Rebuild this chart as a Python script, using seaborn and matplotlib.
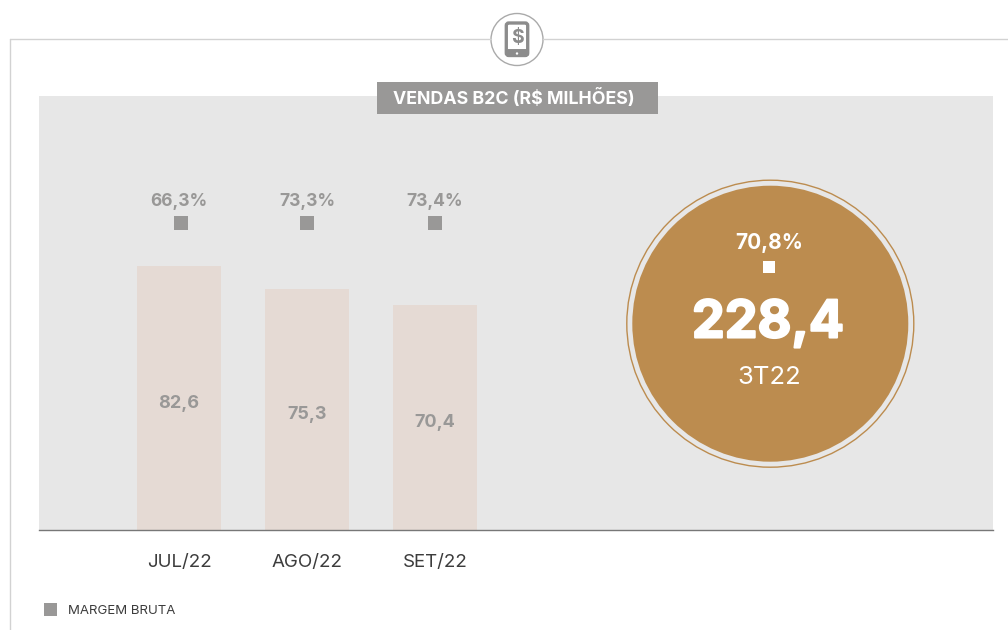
import matplotlib
matplotlib.use('Agg')
import matplotlib.pyplot as plt
from matplotlib.patches import Circle, Rectangle, FancyBboxPatch
import matplotlib.patheffects as pe
import pandas as pd
import seaborn as sns

# dados
meses = ['JUL/22', 'AGO/22', 'SET/22']
vendas = [82.6, 75.3, 70.4]
margem = ['66,3%', '73,3%', '73,4%']
total = '228,4'
total_margem = '70,8%'
total_label = '3T22'
titulo = 'VENDAS B2C (R$ MILHÕES)'
legenda = 'MARGEM BRUTA'

cinza = '#999897'
dourado = '#BC8C4F'

sns.set_theme(style='white')
plt.rcParams['font.family'] = ['Inter', 'DejaVu Sans']

fig = plt.figure(figsize=(10.08, 6.30), dpi=100, facecolor='white')
W, H = 1008, 630

# area do grafico, em pixels da imagem
ax = fig.add_axes([39 / W, 1 - 530 / H, (993 - 39) / W, (530 - 96) / H], facecolor='#E7E7E7')
df = pd.DataFrame({'mes': meses, 'vendas': vendas})
sns.barplot(data=df, x='mes', y='vendas', color='#E5DAD4', saturation=1, width=84 / 128,
            linewidth=0, ax=ax)
ax.set_xlim(-140 / 128, 814 / 128)
ax.set_ylim(0, 434 / 3.196)
ax.set_xlabel('')
ax.set_ylabel('')
ax.set_yticks([])
ax.tick_params(axis='x', length=0, pad=17, labelsize=13.5, labelcolor='#3c3c3c')
sns.despine(ax=ax, left=True, top=True, right=True)
ax.spines['bottom'].set_color('#777777')
ax.spines['bottom'].set_linewidth(1)

for i, (v, m) in enumerate(zip(vendas, margem)):
    ax.text(i, v / 2 - 1.6, f'{v:.1f}'.replace('.', ','), ha='center', va='center',
            fontsize=13, fontweight='bold', color=cinza)
    ax.text(i, 102.9, m, ha='center', va='center', fontsize=12.5, fontweight='bold', color=cinza)
sns.scatterplot(x=[0.016, 1, 2], y=[96, 96, 96], marker='s', s=100, color=cinza, linewidth=0, ax=ax)

# camada em pixels para moldura, titulo, icone e circulo
ov = fig.add_axes([0, 0, 1, 1], facecolor='none')
ov.set_xlim(0, W)
ov.set_ylim(H, 0)
ov.axis('off')

ov.plot([9.5, 491], [39, 39], color='#D2D2D2', lw=1)
ov.plot([543, 1008], [39, 39], color='#D2D2D2', lw=1)
ov.plot([9.5, 9.5], [39, 630], color='#D2D2D2', lw=1)

ov.add_patch(Circle((517, 39.5), 26, fc='white', ec='#AAAAAA', lw=1))
ov.add_patch(FancyBboxPatch((506.3, 23), 21.4, 32.5, boxstyle='round,pad=0,rounding_size=2.5',
                            fc='white', ec='#8C8C8C', lw=2.4))
ov.plot([506.3, 527.7], [52, 52], color='#8C8C8C', lw=5, solid_capstyle='butt')
ov.add_patch(Circle((517, 53.5), 1.2, fc='white', ec='none', zorder=5))
ov.text(517, 38, '$', ha='center', va='center', fontsize=14, fontweight='bold', color='#8C8C8C')

ov.add_patch(Rectangle((377, 82), 281, 32, fc=cinza, ec='none'))
ov.text(514, 99, titulo, ha='center', va='center', fontsize=12.8, fontweight='bold', color='white')

ov.add_patch(Circle((770.3, 323.7), 143.5, fc='none', ec=dourado, lw=1))
ov.add_patch(Circle((770.3, 323.7), 138, fc=dourado, ec='none'))
ov.text(769, 243, total_margem, ha='center', va='center', fontsize=15, fontweight='bold', color='white')
ov.add_patch(Rectangle((763, 261), 12, 12, fc='white', ec='none'))
big = ov.text(768, 324, total, ha='center', va='center', fontsize=37.5, fontweight='bold', color='white')
big.set_path_effects([pe.withStroke(linewidth=1.5, foreground='white')])
ov.text(769, 377, total_label, ha='center', va='center', fontsize=18.5, color='white')

ov.add_patch(Rectangle((44, 603), 13, 13, fc=cinza, ec='none'))
ov.text(68, 610.5, legenda, ha='left', va='center', fontsize=9.5, color='#3c3c3c')

fig.savefig('out.png', dpi=100)
